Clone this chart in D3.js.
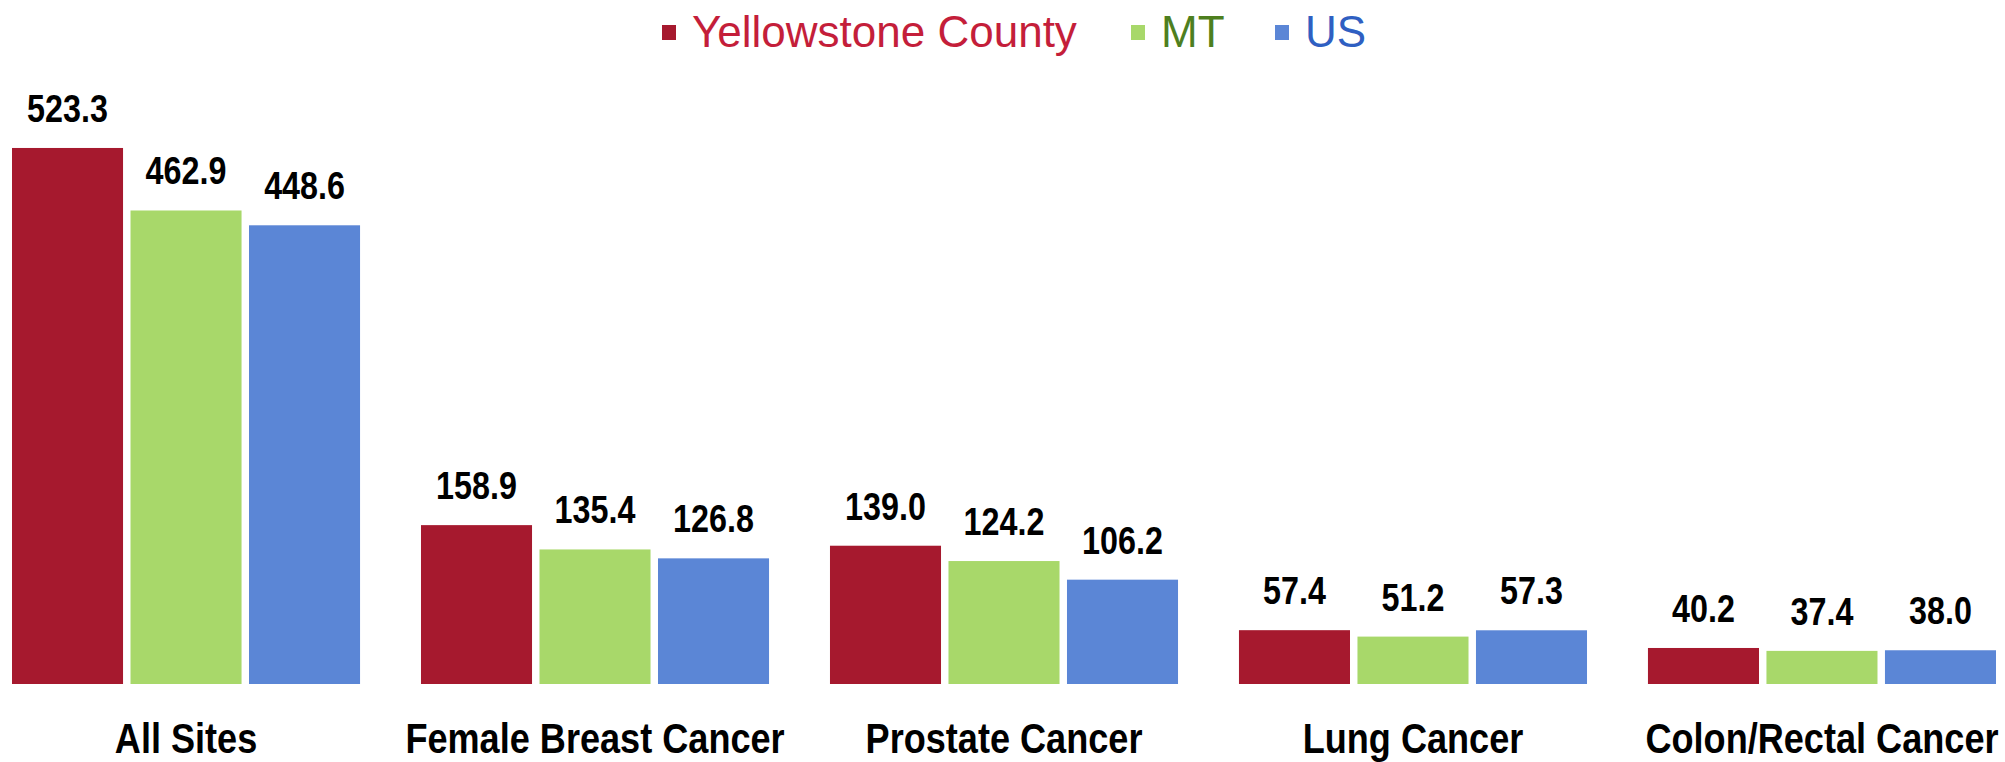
<!DOCTYPE html>
<html>
<head>
<meta charset="utf-8">
<script src="https://cdn.jsdelivr.net/npm/d3@7"></script>
<style>
  html, body { margin: 0; padding: 0; background: #fff; }
  svg { display: block; }
</style>
</head>
<body>
<svg id="chart" width="2005" height="762"></svg>
<script>
// ---- Data ----
const categories = ["All Sites", "Female Breast Cancer", "Prostate Cancer", "Lung Cancer", "Colon/Rectal Cancer"];
const seriesNames = ["Yellowstone County", "MT", "US"];
const yellowstone = [523.3, 158.9, 139.0, 57.4, 40.2];
const mt = [462.9, 135.4, 124.2, 51.2, 37.4];
const us = [448.6, 126.8, 106.2, 57.3, 38.0];

const seriesValues = [yellowstone, mt, us];
const barColors = ["#A6192E", "#A8D86A", "#5B86D6"];
const legendTextColors = ["#C41E3A", "#4E7F1E", "#2F5FC2"];

const svg = d3.select("#chart");
const boldFont = "'Liberation Sans', Arial, sans-serif";
const condenseCat = 0.84;  // emulate Arial Narrow Bold
const condenseVal = 0.85;

// Scales
const x0 = d3.scaleBand().domain(categories).range([12, 1996]).paddingInner(0.149).paddingOuter(0);
const x1 = d3.scaleBand().domain(seriesNames).range([0, x0.bandwidth()]).paddingInner(0.063).paddingOuter(0);
const yMin = 5.4, yMax = 560;
const baseY = 684;
const y = d3.scaleLinear().domain([yMin, yMax]).range([baseY, baseY - (yMax - yMin) * 1.035]);

const rows = categories.map((c, i) => ({
  cat: c,
  vals: seriesNames.map((s, j) => ({ series: s, value: seriesValues[j][i], color: barColors[j] }))
}));

const groups = svg.append("g").selectAll("g")
  .data(rows).join("g")
  .attr("transform", d => `translate(${x0(d.cat)},0)`);

groups.selectAll("rect")
  .data(d => d.vals).join("rect")
  .attr("x", d => x1(d.series))
  .attr("y", d => y(d.value))
  .attr("width", x1.bandwidth())
  .attr("height", d => y(yMin) - y(d.value))
  .attr("fill", d => d.color);

groups.selectAll("text.val")
  .data(d => d.vals).join("text")
  .attr("class", "val")
  .attr("transform", d => `translate(${x1(d.series) + x1.bandwidth() / 2},${y(d.value) - 26}) scale(${condenseVal},1)`)
  .attr("text-anchor", "middle")
  .attr("font-family", boldFont)
  .attr("font-weight", "bold")
  .attr("font-size", 38)
  .attr("fill", "#000")
  .text(d => d.value.toFixed(1));

// Category axis (no line, no ticks)
const xAxis = d3.axisBottom(x0).tickSize(0).tickPadding(0);
const axisG = svg.append("g").attr("transform", `translate(0,${baseY})`).call(xAxis);
axisG.select(".domain").remove();
axisG.selectAll(".tick text")
  .attr("dy", null)
  .attr("y", null)
  .attr("transform", `translate(0,69) scale(${condenseCat},1)`)
  .attr("font-family", boldFont)
  .attr("font-weight", "bold")
  .attr("font-size", 43)
  .attr("fill", "#000");

// Legend
const legend = svg.append("g");
const legendX = [662, 1131, 1275];
seriesNames.forEach((s, i) => {
  legend.append("rect")
    .attr("x", legendX[i]).attr("y", 25)
    .attr("width", 14).attr("height", 15)
    .attr("fill", barColors[i]);
  legend.append("text")
    .attr("x", legendX[i] + 30).attr("y", 47)
    .attr("font-family", "'Liberation Sans', Arial, sans-serif")
    .attr("font-size", 44)
    .attr("fill", legendTextColors[i])
    .text(s);
});
</script>
</body>
</html>
